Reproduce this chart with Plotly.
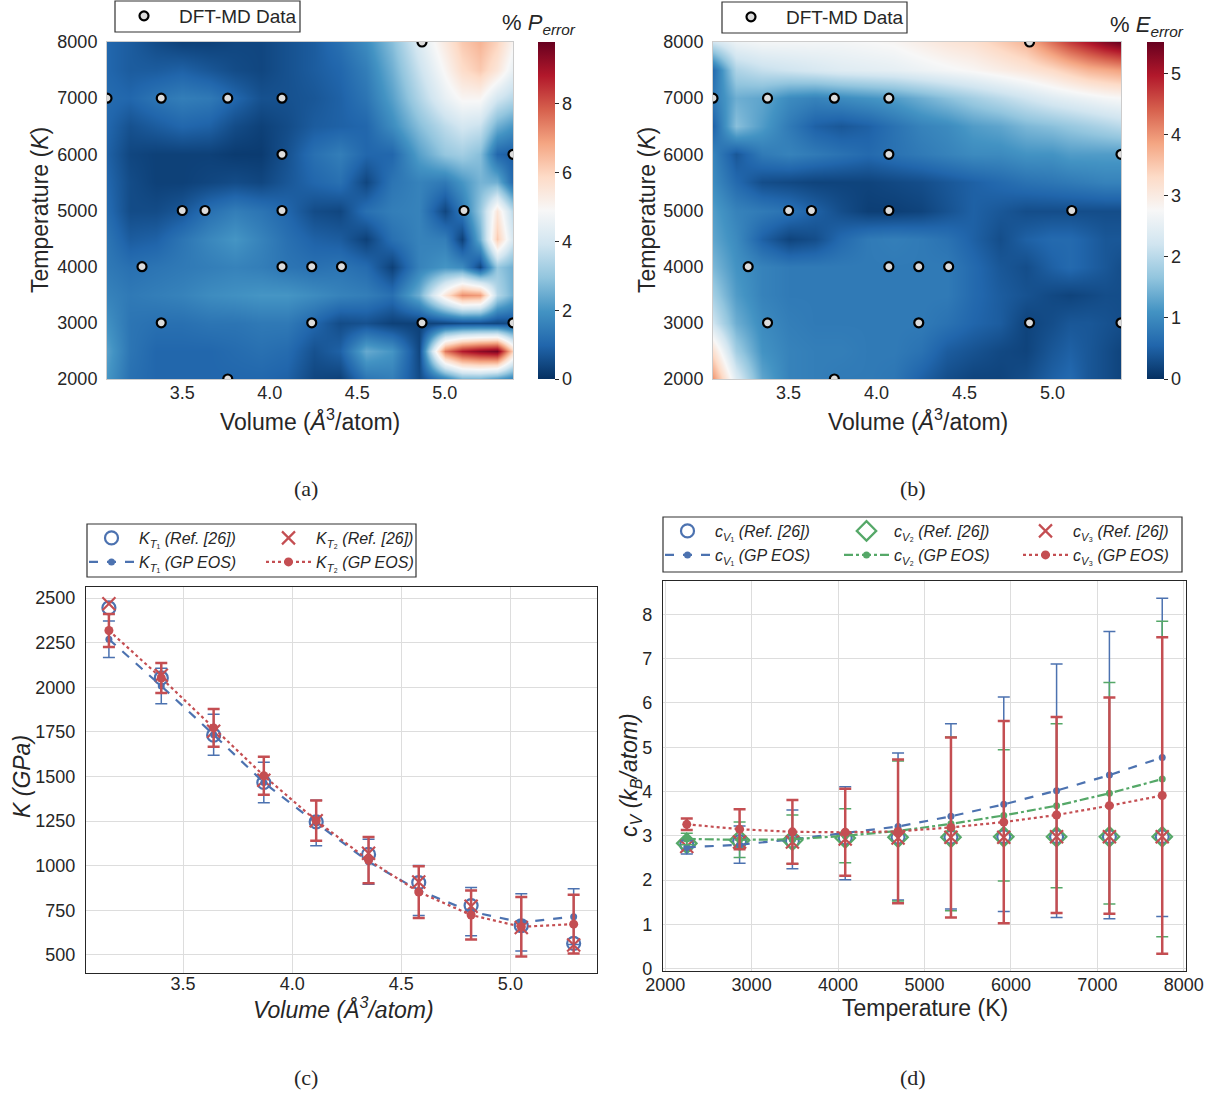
import plotly.graph_objects as go

W, H = 1215, 1095
FONT = "Liberation Sans, Arial, sans-serif"
SERIF = "Liberation Serif, Times New Roman, serif"
TXT = "#262626"
BLUE, GREEN, RED = "#4C72B0", "#55A868", "#C44E52"

# ---------------- DATA ----------------
# DFT-MD sampling points (panels a, b)
dft_volume = [4.87, 3.07, 3.38, 3.76, 4.07, 4.07, 5.39, 3.50, 3.63, 4.07, 5.11,
              3.27, 4.07, 4.24, 4.41, 3.38, 4.24, 4.87, 5.39, 3.76]
dft_temperature = [8000, 7000, 7000, 7000, 7000, 6000, 6000, 5000, 5000, 5000, 5000,
                   4000, 4000, 4000, 4000, 3000, 3000, 3000, 3000, 2000]

# error-map grid
grid_volume = [3.07, 3.2, 3.35, 3.5, 3.65, 3.8, 3.95, 4.1, 4.25, 4.4, 4.55, 4.7,
               4.85, 5.0, 5.1, 5.2, 5.3, 5.39]
grid_temperature = [2000, 2500, 3000, 3500, 4000, 4500, 5000, 5500, 6000, 6500,
                    7000, 7500, 8000]

p_error = [
    [2.0, 1.2, 1.0, 1.0, 1.0, 1.0, 1.0, 0.9, 0.4, 0.3, 1.3, 1.5, 0.5, 1.5, 2.5, 2.5, 2.0, 1.5],
    [2.2, 1.3, 1.0, 1.0, 1.0, 1.1, 1.2, 1.1, 0.6, 0.9, 2.4, 2.0, 0.4, 7.5, 8.8, 9.3, 9.6, 6.0],
    [1.9, 1.3, 1.2, 1.2, 1.3, 1.3, 1.4, 1.4, 1.0, 0.5, 0.6, 0.3, 0.3, 0.4, 0.5, 0.5, 0.4, 0.5],
    [1.6, 1.4, 1.5, 1.6, 1.8, 1.9, 2.0, 2.0, 1.8, 1.6, 1.5, 1.2, 2.5, 5.5, 7.2, 7.0, 3.5, 2.5],
    [1.4, 1.2, 1.3, 1.4, 1.5, 1.6, 1.5, 1.3, 1.2, 1.3, 1.1, 0.3, 1.6, 2.0, 1.8, 0.4, 3.0, 2.5],
    [1.3, 0.8, 0.9, 1.3, 1.7, 2.0, 1.6, 1.2, 0.9, 0.8, 0.3, 1.2, 1.6, 1.5, 0.3, 2.5, 6.2, 4.0],
    [1.1, 0.5, 0.5, 0.7, 1.2, 1.5, 1.3, 1.0, 0.5, 0.4, 1.2, 1.5, 1.6, 0.4, 1.4, 3.0, 5.5, 3.5],
    [1.0, 0.5, 0.3, 0.3, 0.4, 0.5, 0.4, 0.7, 1.0, 1.2, 0.4, 1.3, 1.6, 1.4, 2.0, 2.6, 2.5, 1.0],
    [0.9, 0.4, 0.3, 0.3, 0.3, 0.2, 0.2, 0.6, 1.2, 1.5, 1.0, 1.0, 2.2, 3.0, 3.2, 2.8, 1.0, 0.8],
    [1.0, 0.6, 0.8, 1.0, 0.9, 0.5, 0.3, 0.5, 0.8, 0.9, 1.0, 1.8, 2.8, 3.6, 4.0, 3.8, 2.5, 2.0],
    [1.1, 1.0, 1.3, 1.5, 1.4, 1.0, 0.6, 0.6, 0.7, 0.9, 1.3, 2.2, 3.4, 4.5, 5.0, 5.0, 4.0, 3.5],
    [1.0, 0.8, 0.8, 0.9, 0.7, 0.5, 0.4, 0.6, 0.8, 1.0, 1.5, 2.5, 3.8, 5.0, 5.8, 6.2, 5.5, 4.5],
    [1.0, 0.8, 0.5, 0.3, 0.3, 0.4, 0.4, 0.6, 0.8, 1.2, 1.8, 2.8, 4.2, 5.4, 6.2, 6.6, 6.0, 5.0],
]

e_error = [
    [4.0, 2.4, 1.3, 0.9, 0.85, 0.8, 0.8, 0.75, 0.5, 0.3, 0.2, 0.2, 0.3, 0.5, 0.6, 0.4, 0.3, 0.2],
    [3.2, 1.8, 1.1, 0.9, 0.85, 0.85, 0.8, 0.8, 0.7, 0.45, 0.35, 0.25, 0.2, 0.4, 0.5, 0.4, 0.3, 0.2],
    [2.2, 1.4, 1.0, 0.85, 0.8, 0.8, 0.8, 0.8, 0.8, 0.7, 0.55, 0.45, 0.2, 0.3, 0.4, 0.4, 0.35, 0.3],
    [1.8, 1.2, 0.9, 0.8, 0.8, 0.8, 0.8, 0.8, 0.8, 0.8, 0.6, 0.45, 0.35, 0.25, 0.2, 0.25, 0.3, 0.3],
    [1.5, 1.1, 0.9, 0.8, 0.8, 0.8, 0.8, 0.8, 0.8, 0.8, 0.6, 0.4, 0.3, 0.5, 0.6, 0.5, 0.4, 0.3],
    [1.3, 1.0, 0.5, 0.2, 0.3, 0.6, 0.8, 0.85, 0.8, 0.7, 0.5, 0.3, 0.5, 0.6, 0.6, 0.5, 0.4, 0.4],
    [1.2, 0.9, 0.8, 0.7, 0.5, 0.3, 0.15, 0.15, 0.2, 0.35, 0.5, 0.4, 0.3, 0.3, 0.3, 0.3, 0.3, 0.3],
    [1.0, 0.6, 0.3, 0.25, 0.2, 0.2, 0.2, 0.25, 0.3, 0.4, 0.5, 0.6, 0.7, 0.75, 0.8, 0.85, 0.9, 0.9],
    [0.9, 0.4, 0.8, 0.9, 0.8, 0.7, 0.6, 0.7, 0.8, 0.9, 1.0, 1.0, 1.1, 1.1, 1.2, 1.2, 1.2, 1.2],
    [0.5, 1.6, 1.2, 0.8, 0.5, 0.4, 0.5, 0.7, 0.9, 1.0, 1.2, 1.3, 1.5, 1.6, 1.7, 1.8, 1.9, 2.0],
    [0.8, 1.4, 1.3, 1.0, 0.9, 1.0, 1.1, 1.2, 1.4, 1.6, 1.8, 2.0, 2.2, 2.4, 2.5, 2.6, 2.7, 2.75],
    [0.6, 1.9, 2.1, 2.2, 2.3, 2.4, 2.45, 2.5, 2.6, 2.7, 2.8, 2.95, 3.1, 3.3, 3.5, 3.7, 3.8, 3.9],
    [2.2, 2.6, 2.7, 2.7, 2.7, 2.7, 2.75, 2.8, 2.95, 3.1, 3.2, 3.45, 3.7, 4.3, 4.7, 5.0, 5.3, 5.5],
]

# panel (c): bulk modulus
vol_c = [3.16, 3.40, 3.64, 3.87, 4.11, 4.35, 4.58, 4.82, 5.05, 5.29]
kt1_ref = [2445, 2052, 1731, 1466, 1245, 1063, 905, 776, 663, 564]
kt2_ref = [2468, 2067, 1753, 1479, 1252, 1069, 908, 772, 653, 555]
kt1_gp = [2269, 2007, 1734, 1466, 1239, 1022, 861, 742, 682, 714]
kt1_gp_err = [102, 100, 115, 113, 128, 126, 140, 135, 160, 156]
kt2_gp = [2318, 2052, 1772, 1504, 1252, 1031, 852, 723, 657, 672]
kt2_gp_err = [92, 84, 106, 107, 113, 130, 145, 137, 167, 165]

# panel (d): heat capacity
temp_d = [2250, 2861, 3472, 4083, 4694, 5306, 5917, 6528, 7139, 7750]
cv1_ref = [2.80, 2.87, 2.88, 2.95, 2.97, 2.97, 2.98, 2.98, 2.98, 2.98]
cv2_ref = [2.83, 2.90, 2.90, 2.95, 2.97, 2.97, 2.98, 2.98, 2.98, 2.98]
cv3_ref = [2.76, 2.86, 2.86, 2.93, 2.95, 2.97, 2.97, 2.98, 2.98, 2.98]
cv1_gp = [2.74, 2.80, 2.92, 3.06, 3.21, 3.44, 3.71, 4.02, 4.37, 4.77]
cv1_gp_err = [0.15, 0.42, 0.66, 1.05, 1.66, 2.09, 2.42, 2.86, 3.24, 3.59]
cv2_gp = [2.93, 2.91, 2.92, 3.00, 3.11, 3.27, 3.46, 3.68, 3.96, 4.28]
cv2_gp_err = [0.13, 0.40, 0.55, 0.61, 1.58, 1.96, 1.48, 1.85, 2.50, 3.56]
cv3_gp = [3.26, 3.15, 3.09, 3.08, 3.10, 3.19, 3.31, 3.47, 3.68, 3.91]
cv3_gp_err = [0.13, 0.45, 0.72, 0.98, 1.62, 2.03, 2.28, 2.21, 2.44, 3.57]

# ---------------- HELPERS ----------------
def fx(px):
    return px / W

def fy(px):
    return 1 - px / H

RDBU_R = ['#053061', '#2166ac', '#4393c3', '#92c5de', '#d1e5f0', '#f7f7f7',
          '#fddbc7', '#f4a582', '#d6604d', '#b2182b', '#67001f']
cscale = [[i / 10, c] for i, c in enumerate(RDBU_R)]

fig = go.Figure()

def colorbar(xpx, tickvals):
    return dict(x=fx(xpx), xanchor='left', xpad=0, ypad=0,
                y=fy((42 + 379) / 2), yanchor='middle',
                len=337, lenmode='pixels', thickness=17, thicknessmode='pixels',
                outlinewidth=0, ticks='outside', ticklen=4, tickwidth=1,
                tickcolor=TXT, tickvals=tickvals,
                tickfont=dict(size=18, family=FONT, color=TXT))

fig.add_trace(go.Heatmap(x=grid_volume, y=grid_temperature, z=p_error,
                         zsmooth='best', colorscale=cscale, zmin=0, zmax=9.8,
                         xaxis='x', yaxis='y', showlegend=False,
                         colorbar=colorbar(538, [0, 2, 4, 6, 8])))
fig.add_trace(go.Heatmap(x=grid_volume, y=grid_temperature, z=e_error,
                         zsmooth='best', colorscale=cscale, zmin=0, zmax=5.52,
                         xaxis='x2', yaxis='y2', showlegend=False,
                         colorbar=colorbar(1147, [0, 1, 2, 3, 4, 5])))

dft_marker = dict(size=9, color='#dcdcdc', line=dict(width=2.2, color='black'))
fig.add_trace(go.Scatter(x=dft_volume, y=dft_temperature, mode='markers',
                         marker=dft_marker, name='DFT-MD Data', showlegend=True,
                         xaxis='x', yaxis='y', legend='legend'))
fig.add_trace(go.Scatter(x=dft_volume, y=dft_temperature, mode='markers',
                         marker=dft_marker, name='DFT-MD Data', showlegend=True,
                         xaxis='x2', yaxis='y2', legend='legend2'))

# panel (c)
fig.add_trace(go.Scatter(x=vol_c, y=kt1_ref, mode='markers', xaxis='x3', yaxis='y3',
                         name='<i>K</i><sub><i>T</i>₁</sub> <i>(Ref. [26])</i>',
                         marker=dict(symbol='circle-open', size=13, color=BLUE,
                                     line=dict(width=2.2, color=BLUE)),
                         legend='legend3'))
fig.add_trace(go.Scatter(x=vol_c, y=kt2_ref, mode='markers', xaxis='x3', yaxis='y3',
                         name='<i>K</i><sub><i>T</i>₂</sub> <i>(Ref. [26])</i>',
                         marker=dict(symbol='x-thin-open', size=13, color=RED,
                                     line=dict(width=2.2, color=RED)),
                         legend='legend3'))
fig.add_trace(go.Scatter(x=vol_c, y=kt1_gp, mode='lines+markers', xaxis='x3', yaxis='y3',
                         name='<i>K</i><sub><i>T</i>₁</sub> <i>(GP EOS)</i>',
                         line=dict(color=BLUE, width=2.2, dash='dash'),
                         marker=dict(size=7, color=BLUE),
                         error_y=dict(type='data', array=kt1_gp_err, color=BLUE,
                                      thickness=1.5, width=6),
                         legend='legend4'))
fig.add_trace(go.Scatter(x=vol_c, y=kt2_gp, mode='lines+markers', xaxis='x3', yaxis='y3',
                         name='<i>K</i><sub><i>T</i>₂</sub> <i>(GP EOS)</i>',
                         line=dict(color=RED, width=2.2, dash='dot'),
                         marker=dict(size=9, color=RED),
                         error_y=dict(type='data', array=kt2_gp_err, color=RED,
                                      thickness=2.5, width=6),
                         legend='legend4'))

# panel (d)
fig.add_trace(go.Scatter(x=temp_d, y=cv1_ref, mode='markers', xaxis='x4', yaxis='y4',
                         name='<i>c</i><sub><i>V</i>₁</sub> <i>(Ref. [26])</i>',
                         marker=dict(symbol='circle-open', size=13, color=BLUE,
                                     line=dict(width=2.2, color=BLUE)),
                         legend='legend5'))
fig.add_trace(go.Scatter(x=temp_d, y=cv2_ref, mode='markers', xaxis='x4', yaxis='y4',
                         name='<i>c</i><sub><i>V</i>₂</sub> <i>(Ref. [26])</i>',
                         marker=dict(symbol='diamond-open', size=15, color=GREEN,
                                     line=dict(width=2.2, color=GREEN)),
                         legend='legend5'))
fig.add_trace(go.Scatter(x=temp_d, y=cv3_ref, mode='markers', xaxis='x4', yaxis='y4',
                         name='<i>c</i><sub><i>V</i>₃</sub> <i>(Ref. [26])</i>',
                         marker=dict(symbol='x-thin-open', size=13, color=RED,
                                     line=dict(width=2.2, color=RED)),
                         legend='legend5'))
fig.add_trace(go.Scatter(x=temp_d, y=cv1_gp, mode='lines+markers', xaxis='x4', yaxis='y4',
                         name='<i>c</i><sub><i>V</i>₁</sub> <i>(GP EOS)</i>',
                         line=dict(color=BLUE, width=2.2, dash='dash'),
                         marker=dict(size=7, color=BLUE),
                         error_y=dict(type='data', array=cv1_gp_err, color=BLUE,
                                      thickness=1.5, width=6),
                         legend='legend6'))
fig.add_trace(go.Scatter(x=temp_d, y=cv2_gp, mode='lines+markers', xaxis='x4', yaxis='y4',
                         name='<i>c</i><sub><i>V</i>₂</sub> <i>(GP EOS)</i>',
                         line=dict(color=GREEN, width=2.2, dash='dashdot'),
                         marker=dict(size=7, color=GREEN),
                         error_y=dict(type='data', array=cv2_gp_err, color=GREEN,
                                      thickness=1.5, width=6),
                         legend='legend6'))
fig.add_trace(go.Scatter(x=temp_d, y=cv3_gp, mode='lines+markers', xaxis='x4', yaxis='y4',
                         name='<i>c</i><sub><i>V</i>₃</sub> <i>(GP EOS)</i>',
                         line=dict(color=RED, width=2.2, dash='dot'),
                         marker=dict(size=9, color=RED),
                         error_y=dict(type='data', array=cv3_gp_err, color=RED,
                                      thickness=2.5, width=6),
                         legend='legend6'))

# ---------------- AXES ----------------
tickfont = dict(size=18, family=FONT, color=TXT)

def heat_axes(x0, x1):
    xa = dict(domain=[fx(x0), fx(x1)], range=[3.07, 5.39], tickvals=[3.5, 4.0, 4.5, 5.0],
              ticktext=['3.5', '4.0', '4.5', '5.0'], showgrid=False, zeroline=False,
              showline=True, mirror=True, linecolor='#cccccc', linewidth=1,
              ticks='', ticklabelstandoff=-3, tickfont=tickfont)
    ya = dict(domain=[fy(379), fy(42)], range=[2000, 8000],
              tickvals=[2000, 3000, 4000, 5000, 6000, 7000, 8000],
              showgrid=False, zeroline=False, showline=True, mirror=True,
              linecolor='#cccccc', linewidth=1, ticks='', ticklabelstandoff=5,
              tickfont=tickfont)
    return xa, ya

xa1, ya1 = heat_axes(107, 513)
xa2, ya2 = heat_axes(713, 1121)
xa1['anchor'] = 'y'; ya1['anchor'] = 'x'
xa2['anchor'] = 'y2'; ya2['anchor'] = 'x2'

grid_col = '#dddddd'
xa3 = dict(domain=[fx(86), fx(597)], range=[3.055, 5.397], anchor='y3',
           tickvals=[3.5, 4.0, 4.5, 5.0], ticktext=['3.5', '4.0', '4.5', '5.0'],
           showgrid=True, gridcolor=grid_col, gridwidth=1, zeroline=False,
           showline=True, mirror=True, linecolor=TXT, linewidth=1.2,
           ticks='', ticklabelstandoff=-6, tickfont=tickfont)
ya3 = dict(domain=[fy(973), fy(587)], range=[398, 2562], anchor='x3',
           tickvals=[500, 750, 1000, 1250, 1500, 1750, 2000, 2250, 2500],
           showgrid=True, gridcolor=grid_col, gridwidth=1, zeroline=False,
           showline=True, mirror=True, linecolor=TXT, linewidth=1.2,
           ticks='', ticklabelstandoff=6, tickfont=tickfont)
xa4 = dict(domain=[fx(663), fx(1186)], range=[1975, 8025], anchor='y4',
           tickvals=[2000, 3000, 4000, 5000, 6000, 7000, 8000],
           showgrid=True, gridcolor=grid_col, gridwidth=1, zeroline=False,
           showline=True, mirror=True, linecolor=TXT, linewidth=1.2,
           ticks='', ticklabelstandoff=-3, tickfont=tickfont)
ya4 = dict(domain=[fy(971), fy(581)], range=[-0.05, 8.75], anchor='x4',
           tickvals=[0, 1, 2, 3, 4, 5, 6, 7, 8],
           showgrid=True, gridcolor=grid_col, gridwidth=1, zeroline=False,
           showline=True, mirror=True, linecolor=TXT, linewidth=1.2,
           ticks='', ticklabelstandoff=6, tickfont=tickfont)

# ---------------- LEGENDS ----------------
def leg(xpx, ypx, size, ew, iw):
    return dict(x=fx(xpx), y=fy(ypx), xanchor='left', yanchor='middle',
                orientation='h', entrywidth=ew, entrywidthmode='pixels',
                itemwidth=iw, bgcolor='rgba(0,0,0,0)', borderwidth=0,
                font=dict(size=size, family=FONT, color=TXT))

# ---------------- ANNOTATIONS ----------------
def ann(text, xpx, ypx, size, angle=0, family=FONT, xanchor='center'):
    return dict(text=text, x=fx(xpx), y=fy(ypx), xref='paper', yref='paper',
                showarrow=False, textangle=angle, xanchor=xanchor, yanchor='middle',
                font=dict(size=size, family=family, color=TXT))

TS = 23
annotations = [
    ann('Volume (<i>Å</i><sup>3</sup>/atom)', 310, 420, TS),
    ann('Temperature (<i>K</i>)', 40, 210, TS, angle=-90),
    ann('Volume (<i>Å</i><sup>3</sup>/atom)', 918, 420, TS),
    ann('Temperature (<i>K</i>)', 647, 210, TS, angle=-90),
    ann('% <i>P<sub>error</sub></i>', 539, 24, 22),
    ann('% <i>E<sub>error</sub></i>', 1147, 26, 22),
    ann('<i>Volume (Å<sup>3</sup>/atom)</i>', 343, 1008, TS),
    ann('<i>K (GPa)</i>', 22, 777, TS, angle=-90),
    ann('Temperature (K)', 925, 1008, TS),
    ann('<i>c<sub>V</sub> (k<sub>B</sub>/atom)</i>', 630, 775, TS, angle=-90),
    ann('(a)', 306, 488, 22, family=SERIF),
    ann('(b)', 913, 488, 22, family=SERIF),
    ann('(c)', 306, 1077, 22, family=SERIF),
    ann('(d)', 913, 1077, 22, family=SERIF),
]

def box(x0, y0, x1, y1):
    return dict(type='rect', xref='paper', yref='paper', x0=fx(x0), x1=fx(x1),
                y0=fy(y1), y1=fy(y0), line=dict(color='#333333', width=1.2),
                fillcolor='rgba(0,0,0,0)', layer='above')

shapes = [box(115, 1, 300, 32), box(722, 2, 907, 33),
          box(87, 524, 416, 577), box(663, 517, 1182, 572)]

fig.update_layout(
    width=W, height=H,
    margin=dict(l=0, r=0, t=0, b=0, autoexpand=False),
    showlegend=True,
    paper_bgcolor='white', plot_bgcolor='white',
    font=dict(family=FONT, color=TXT),
    xaxis=xa1, yaxis=ya1, xaxis2=xa2, yaxis2=ya2,
    xaxis3=xa3, yaxis3=ya3, xaxis4=xa4, yaxis4=ya4,
    legend=leg(109, 16, 19, 130, 60),
    legend2=leg(716, 17, 19, 130, 60),
    legend3=leg(84, 538, 16, 117, 45),
    legend4=leg(84, 562, 16, 117, 45),
    legend5=leg(660, 531, 16, 119, 45),
    legend6=leg(660, 555, 16, 119, 45),
    annotations=annotations, shapes=shapes,
)

fig.write_html("out.html")
